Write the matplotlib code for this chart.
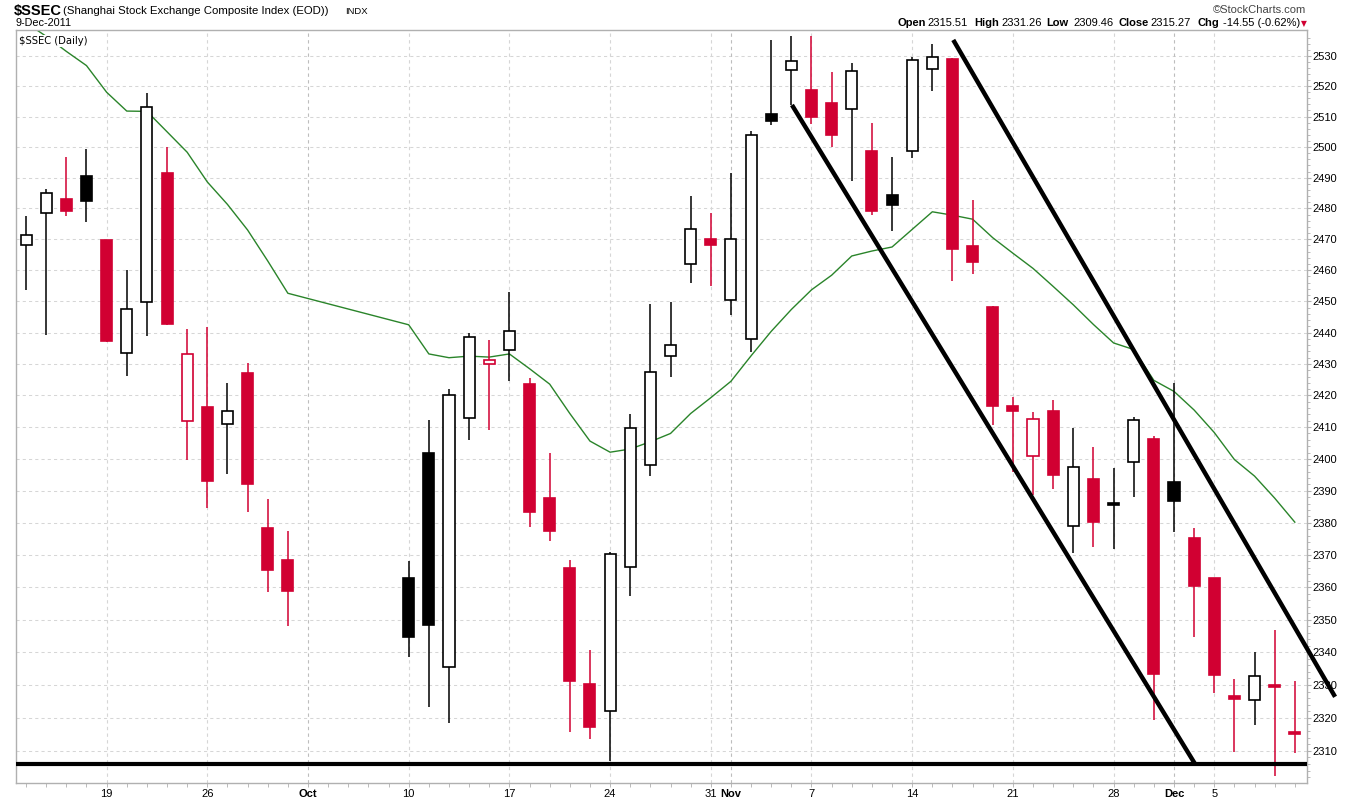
import numpy as np
import pandas as pd
import matplotlib
matplotlib.use("Agg")
import matplotlib.pyplot as plt
from matplotlib.ticker import FixedLocator, NullFormatter

# trading days (Oct 3-7 holiday keeps empty slots on the chart)
dates = pd.bdate_range("2011-09-13", "2011-12-09")
dates = dates[(dates < "2011-10-03") | (dates > "2011-10-07")]

opens = [2468, 2478.6, 2483, 2490.6, 2469.7, 2433.6, 2449.8, 2491.6, 2412, 2416.3,
         2411, 2427.2, 2378.4, 2368.4, 2362.8, 2401.7, 2335.6, 2413, 2430, 2434.5,
         2423.6, 2387.8, 2366, 2330.4, 2322, 2366.3, 2398.1, 2432.6, 2461.9, 2470.1,
         2450.4, 2438, 2511, 2525.3, 2518.6, 2514.3, 2512.4, 2498.8, 2484.3, 2498.7,
         2525.8, 2529, 2467.9, 2448.3, 2416.8, 2400.9, 2415.1, 2379.1, 2393.6, 2386.1,
         2399.1, 2406.4, 2392.6, 2375.2, 2362.8, 2326.6, 2325.4, 2329.8, 2315.51]
highs = [2477.5, 2486.3, 2496.6, 2499.4, 2469.7, 2460, 2517.7, 2500, 2441, 2441.9,
         2424.1, 2430.3, 2387.5, 2377.5, 2368.1, 2412.4, 2422, 2439.8, 2437.8, 2452.9,
         2425.7, 2401.7, 2368.5, 2340.7, 2370.8, 2414.2, 2449, 2449.8, 2484, 2478.4,
         2491.5, 2505.4, 2535.3, 2536.7, 2536.5, 2524.7, 2527.7, 2507.9, 2496.6, 2529.8,
         2534, 2529.2, 2482.6, 2448.6, 2419.5, 2414.7, 2418.5, 2409.7, 2403.8, 2397,
         2413.2, 2407.1, 2424, 2378.5, 2363, 2331.8, 2340, 2346.7, 2331.26]
lows = [2453.5, 2439.1, 2477.5, 2475.6, 2437, 2426.2, 2438.9, 2442.3, 2399.8, 2384.5,
        2395.2, 2383.3, 2358.4, 2348.2, 2338.6, 2323.2, 2318.5, 2406, 2409, 2424.6,
        2378.6, 2374.3, 2315.7, 2313.5, 2307, 2357.2, 2394.6, 2426, 2456, 2455,
        2445.5, 2433.8, 2507.3, 2513.9, 2507.7, 2500, 2489, 2478, 2472.6, 2496.4,
        2518.5, 2456.6, 2458.8, 2410.8, 2395.9, 2388.6, 2390.5, 2370.6, 2372.4, 2372,
        2388.1, 2319.3, 2377, 2344.7, 2327.5, 2309.8, 2317.7, 2302.3, 2309.46]
closes = [2471.4, 2484.9, 2479.1, 2482.4, 2437.4, 2447.7, 2513, 2442.8, 2433.2, 2393,
          2415.2, 2392.1, 2365.2, 2359, 2344.8, 2348.5, 2420, 2438.7, 2431.3, 2440.6,
          2383.3, 2377.4, 2331.1, 2317.2, 2370.3, 2409.7, 2427.5, 2435.9, 2473.4, 2468,
          2470.1, 2504, 2508.4, 2528.2, 2510, 2504.1, 2524.9, 2479.3, 2481.1, 2528.6,
          2529.6, 2466.7, 2462.7, 2416.7, 2415, 2412.5, 2395, 2397.5, 2380.2, 2385.4,
          2412.2, 2333.3, 2386.8, 2360.5, 2332.9, 2325.6, 2332.7, 2329.6, 2315.27]
# k = up vs previous close (black), r = down (red), as drawn on the chart
candle_colors = list("kkrkrkkrrr" "krrrkkkkrk" "rrrrkkkkkr"
                     "kkkkrrkrkk" "krrrrrrkrk" "krkrrrkrr")
ma20 = [2541, 2536.5, 2531.5, 2526.8, 2518, 2511.8, 2511.7, 2505, 2498.3, 2488.6,
        2481.3, 2473, 2463, 2452.6, 2442.5, 2433.2, 2432, 2432.5, 2432.2, 2433.2,
        2428.5, 2423.6, 2414.3, 2405.6, 2402.1, 2403.1, 2405.4, 2408, 2414.3, 2419.3,
        2424.5, 2432.6, 2440.4, 2447.4, 2453.7, 2458.4, 2464.6, 2466.2, 2467.5, 2473.2,
        2478.9, 2477.8, 2476.5, 2470.5, 2465.5, 2460.6, 2454.8, 2448.9, 2442.6, 2436.7,
        2434.6, 2424.8, 2421.3, 2415.4, 2408.3, 2399.8, 2394.6, 2387.7, 2380.2]

tick_dates = ["2011-09-19", "2011-09-26", "2011-10-03", "2011-10-10", "2011-10-17",
              "2011-10-24", "2011-10-31", "2011-11-01", "2011-11-07", "2011-11-14",
              "2011-11-21", "2011-11-28", "2011-12-01", "2011-12-05"]
tick_labels = ["19", "26", "Oct", "10", "17", "24", "31", "Nov", "7", "14",
               "21", "28", "Dec", "5"]
month_labels = ["Oct", "Nov", "Dec"]

support_level = 2306.1
# hand drawn channel: (slot, price) end points
upper_line = [(46.04, 2535.3), (65.0, 2326.4)]
lower_line = [(38.03, 2513.8), (58.04, 2306.1)]

RED = "#D10032"
GREEN = "#2A842A"
FONT = "Liberation Sans"

start = "2011-09-13"
x = np.busday_count(start, dates.values.astype("datetime64[D]"))
tick_x = np.busday_count(start, np.array(tick_dates, dtype="datetime64[D]"))

W, H = 1350, 800
fig = plt.figure(figsize=(W / 100, H / 100), dpi=100)
left, right, top, bottom = 16, 1306.7, 30, 783
ax = fig.add_axes([left / W, 1 - bottom / H, (right - left) / W, (bottom - top) / H])
ax.set_yscale("log")

# grid
for p in range(2310, 2531, 10):
    ax.axhline(p, color="#d6d6d6", lw=0.75, ls=(0, (3, 3)), zorder=0)
for tx, lab in zip(tick_x, tick_labels):
    c = "#bdbdbd" if lab in month_labels else "#d6d6d6"
    ax.axvline(tx, color=c, lw=0.8, ls=(0, (3, 3)), zorder=0)

# moving average
ax.plot(x, ma20, color=GREEN, lw=1.0, zorder=2)

# candles
body_w = 0.55
for xi, o, h, l, c, col in zip(x, opens, highs, lows, closes, candle_colors):
    color = "black" if col == "k" else RED
    ax.vlines(xi, l, h, color=color, lw=1.1, zorder=3)
    lo, hi = min(o, c), max(o, c)
    if hi - lo < 0.5:
        mid = (hi + lo) / 2
        lo, hi = mid - 0.25, mid + 0.25
    face = "white" if c > o else color
    ax.bar(xi, hi - lo, bottom=lo, width=body_w, facecolor=face, edgecolor=color,
           linewidth=1.2, zorder=4)

# support line and channel
ax.axhline(support_level, color="black", lw=3.0, zorder=5)
ax.plot(*zip(*upper_line), color="black", lw=3.2, zorder=5, clip_on=False,
        solid_capstyle="butt")
ax.plot(*zip(*lower_line), color="black", lw=3.2, zorder=5, solid_capstyle="butt")

ax.set_xlim(-0.5, 63.59)
ax.set_ylim(2300.3, 2538.6)

# axes styling
for s in ax.spines.values():
    s.set_color("#b0b0b0")
    s.set_linewidth(1.0)

ax.yaxis.tick_right()
ax.yaxis.set_major_locator(FixedLocator(list(range(2310, 2531, 10))))
ax.yaxis.set_minor_locator(FixedLocator([p for p in range(2302, 2538, 2) if p % 10]))
ax.yaxis.set_minor_formatter(NullFormatter())
ax.set_yticklabels([str(p) for p in range(2310, 2531, 10)])
ax.tick_params(axis="y", which="major", length=3, width=0.8, color="#b0b0b0",
               pad=1, labelsize=8)
ax.tick_params(axis="y", which="minor", length=2, width=0.6, color="#b0b0b0")

ax.xaxis.set_major_locator(FixedLocator(tick_x))
ax.xaxis.set_minor_locator(FixedLocator(list(range(0, 64))))
ax.set_xticklabels(tick_labels)
ax.tick_params(axis="x", which="both", length=3, width=0.6, color="#b0b0b0",
               pad=1, labelsize=8)
for t in ax.get_xticklabels() + ax.get_yticklabels():
    t.set_fontfamily(FONT)
    if t.get_text() in month_labels:
        t.set_fontweight("bold")

ax.text(0.0025, 0.992, "$SSEC (Daily)", transform=ax.transAxes, ha="left", va="top",
        fontsize=7.2, family="DejaVu Sans",
        bbox=dict(facecolor="white", edgecolor="none", pad=0.6), zorder=6)

# header
def ftext(px, py, s, **kw):
    kw.setdefault("family", FONT)
    kw.setdefault("fontsize", 8)
    kw.setdefault("va", "center")
    fig.text(px / W, 1 - py / H, s, **kw)

ftext(14, 11, "$SSEC", fontsize=10.5, weight="bold")
ftext(63, 11, "(Shanghai Stock Exchange Composite Index (EOD))", fontsize=8.2)
ftext(345, 11.5, "INDX", fontsize=6.8)
ftext(15, 23, "9-Dec-2011", fontsize=7.8)
ftext(1306, 10, "\u00a9StockCharts.com", fontsize=8, color="#444444", ha="right")

pieces = [(898, "Open", True), (927.5, "2315.51", False),
          (974.5, "High", True), (1001.5, "2331.26", False),
          (1046.5, "Low", True), (1073, "2309.46", False),
          (1118.5, "Close", True), (1150, "2315.27", False),
          (1198, "Chg", True), (1223, "-14.55 (-0.62%)", False)]
for px, s, bold in pieces:
    ftext(px, 23, s, weight="bold" if bold else "normal")
ftext(1301, 23.5, "\u25bc", family="DejaVu Sans", fontsize=5.5, color=RED)

fig.savefig("out.png", dpi=100, facecolor="white")
